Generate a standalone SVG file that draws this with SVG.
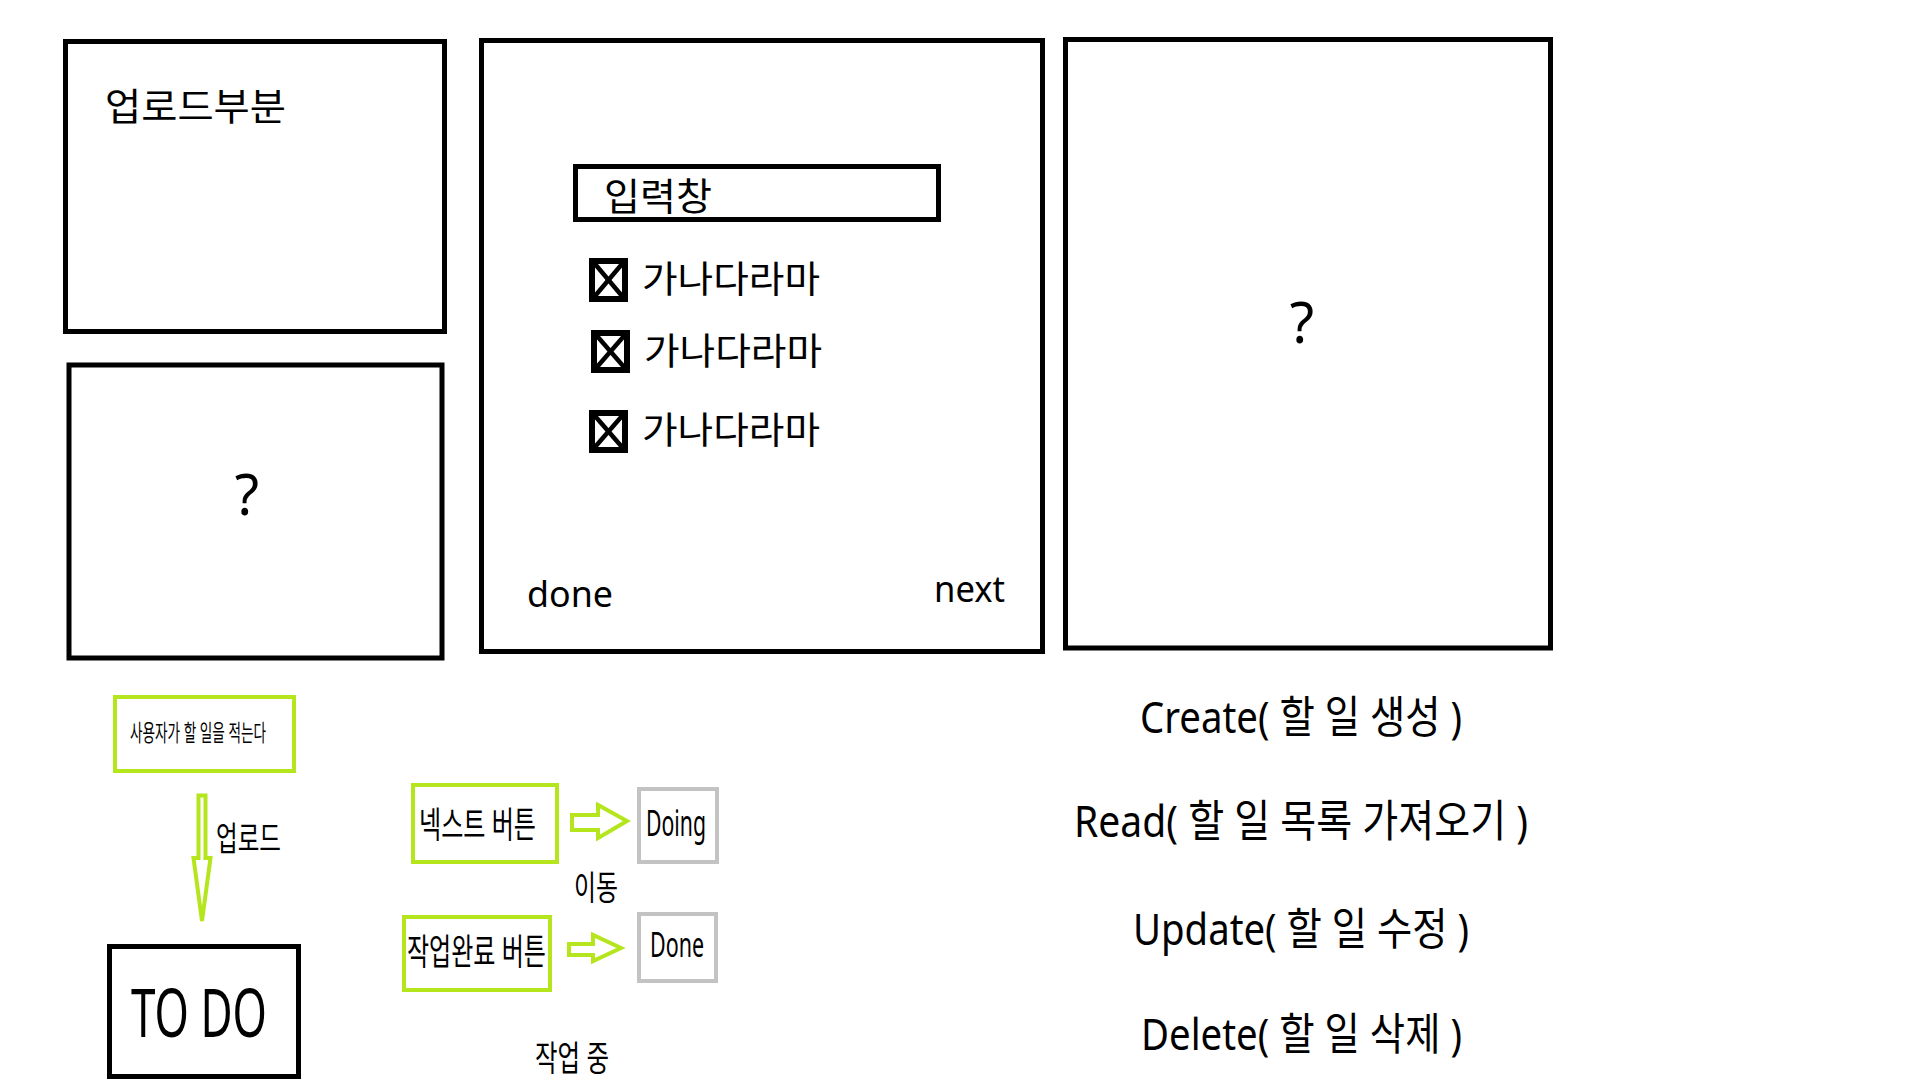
<svg xmlns="http://www.w3.org/2000/svg" width="1920" height="1080" viewBox="0 0 1920 1080">
<style>
.bk{fill:#fff;stroke:#000;stroke-width:5}
.cb{fill:#fff;stroke:#000;stroke-width:6}
.gr{fill:#fff;stroke:#b5e61d;stroke-width:4}
.gy{fill:#fff;stroke:#c3c3c3;stroke-width:4}
.ar{fill:#fff;stroke:#b5e61d;stroke-width:4;stroke-linejoin:miter}
.t{font-family:"Noto Sans","Noto Sans CJK KR",sans-serif;fill:#000}
.x{stroke:#000;stroke-width:4.5}
</style>
<rect width="1920" height="1080" fill="#fff"/>
<g id="upload-panel">
<rect class="bk" x="65.5" y="41.5" width="379" height="290"/>
<text class="t" x="105" y="120" font-size="38" textLength="181" lengthAdjust="spacingAndGlyphs">업로드부분</text>
</g>
<g id="unknown-panel-left">
<rect class="bk" x="69" y="365" width="373" height="293"/>
<text class="t" x="247" y="515" font-size="56" text-anchor="middle">?</text>
</g>
<g id="list-panel">
<rect class="bk" x="481.5" y="40.5" width="561" height="611"/>
<g id="input-box">
<rect class="bk" x="575.5" y="166.5" width="363" height="53"/>
<text class="t" x="604" y="210" font-size="38" textLength="108" lengthAdjust="spacingAndGlyphs">입력창</text>
</g>
<g id="item1">
<rect class="cb" x="592" y="261" width="33" height="38"/>
<line class="x" x1="595" y1="264" x2="622" y2="296"/><line class="x" x1="622" y1="264" x2="595" y2="296"/>
<text class="t" x="642" y="293" font-size="37" textLength="178" lengthAdjust="spacingAndGlyphs">가나다라마</text>
</g>
<g id="item2">
<rect class="cb" x="594" y="333" width="33" height="37"/>
<line class="x" x1="597" y1="336" x2="624" y2="367"/><line class="x" x1="624" y1="336" x2="597" y2="367"/>
<text class="t" x="644" y="365" font-size="37" textLength="178" lengthAdjust="spacingAndGlyphs">가나다라마</text>
</g>
<g id="item3">
<rect class="cb" x="592" y="413" width="33" height="37"/>
<line class="x" x1="595" y1="416" x2="622" y2="447"/><line class="x" x1="622" y1="416" x2="595" y2="447"/>
<text class="t" x="642" y="444" font-size="37" textLength="178" lengthAdjust="spacingAndGlyphs">가나다라마</text>
</g>
<text class="t" x="527" y="607" font-size="37" textLength="86" lengthAdjust="spacingAndGlyphs">done</text>
<text class="t" x="934" y="602" font-size="37" textLength="71" lengthAdjust="spacingAndGlyphs">next</text>
</g>
<g id="unknown-panel-right">
<rect class="bk" x="1065.5" y="39.5" width="485" height="608.5"/>
<text class="t" x="1302" y="343" font-size="56" text-anchor="middle">?</text>
</g>
<g id="user-writes">
<rect class="gr" x="115" y="697" width="179" height="74"/>
<text class="t" x="130" y="741" font-size="23" textLength="136" lengthAdjust="spacingAndGlyphs">사용자가 할 일을 적는다</text>
</g>
<g id="todo">
<rect class="bk" x="109.5" y="946.5" width="189" height="130"/>
<text class="t" x="131" y="1037" font-size="68" textLength="136" lengthAdjust="spacingAndGlyphs">TO DO</text>
</g>
<g id="next-button">
<rect class="gr" x="413" y="785" width="144" height="77"/>
<text class="t" x="419" y="838" font-size="36" textLength="117" lengthAdjust="spacingAndGlyphs">넥스트 버튼</text>
</g>
<g id="doing">
<rect class="gy" x="639" y="789" width="78" height="73"/>
<text class="t" x="646" y="836" font-size="36" textLength="60" lengthAdjust="spacingAndGlyphs">Doing</text>
</g>
<g id="done-button">
<rect class="gr" x="404" y="917" width="146" height="73"/>
<text class="t" x="407" y="965" font-size="36" textLength="139" lengthAdjust="spacingAndGlyphs">작업완료 버튼</text>
</g>
<g id="done">
<rect class="gy" x="639" y="914" width="77" height="67"/>
<text class="t" x="650" y="957" font-size="35" textLength="54" lengthAdjust="spacingAndGlyphs">Done</text>
</g>
<g id="connectors">
<path class="ar" stroke-width="3" d="M198.5,795.5 H205.5 V858 H210.5 L202,921 L193.5,858 H198.5 Z"/>
<path class="ar" d="M572,815 H598 V805 L627,821 L598,838 V830 H572 Z"/>
<path class="ar" d="M569,944 H593 V935 L621,948 L593,961 V955 H569 Z"/>
</g>
<g id="labels">
<text class="t" x="216" y="851" font-size="34" textLength="65" lengthAdjust="spacingAndGlyphs">업로드</text>
<text class="t" x="574" y="900" font-size="34" textLength="44" lengthAdjust="spacingAndGlyphs">이동</text>
<text class="t" x="535" y="1071" font-size="35" textLength="74" lengthAdjust="spacingAndGlyphs">작업 중</text>
</g>
<g id="crud">
<text class="t" x="1140" y="733" font-size="44" textLength="322" lengthAdjust="spacingAndGlyphs">Create( 할 일 생성 )</text>
<text class="t" x="1074" y="837" font-size="44" textLength="454" lengthAdjust="spacingAndGlyphs">Read( 할 일 목록 가져오기 )</text>
<text class="t" x="1133" y="945" font-size="44" textLength="336" lengthAdjust="spacingAndGlyphs">Update( 할 일 수정 )</text>
<text class="t" x="1141" y="1050" font-size="44" textLength="321" lengthAdjust="spacingAndGlyphs">Delete( 할 일 삭제 )</text>
</g>
</svg>
